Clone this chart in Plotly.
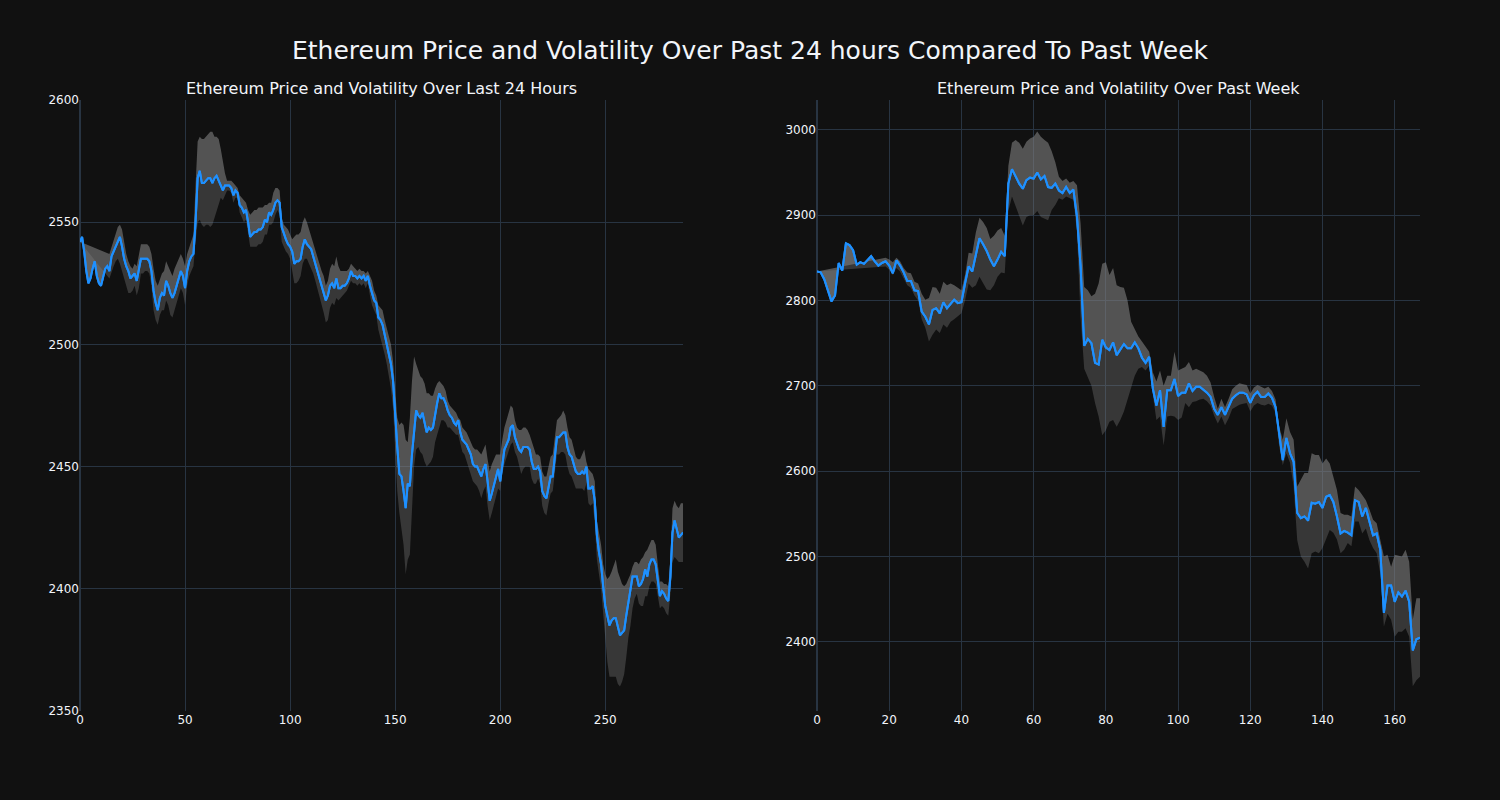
import plotly.graph_objects as go
from plotly.subplots import make_subplots

nan = None

# ---------------- Last 24 hours (5-minute steps) ----------------
day_price = [
    2542, 2544, 2538, 2530, 2525, 2527, 2531, 2534, 2528, 2525,
    2524, 2527, 2531, 2532, 2530, 2536, 2538, 2540, 2542, 2544,
    2540, 2535, 2532, 2530, 2527, 2528, 2529, 2526, 2530, 2535,
    2535, 2535, 2535, 2534, 2530, 2522, 2517, 2514, 2519, 2521,
    2520, 2526, 2524, 2521, 2519, 2521, 2524, 2527, 2530, 2528,
    2523, 2530, 2534, 2536, 2537, 2550, 2568, 2571, 2566, 2566,
    2567, 2568, 2568, 2566, 2568, 2569, 2567, 2565, 2563, 2565,
    2565, 2565, 2564, 2561, 2563, 2562, 2557, 2556, 2554, 2555,
    2550, 2544, 2545, 2546, 2546, 2547, 2547, 2548, 2551, 2550,
    2554, 2553, 2555, 2558, 2559, 2558, 2548, 2545, 2543, 2541,
    2540, 2538, 2533, 2534, 2534, 2535, 2540, 2543, 2541, 2540,
    2539, 2536, 2533, 2530, 2526, 2524, 2521, 2518, 2520, 2524,
    2525, 2523, 2527, 2523, 2523, 2524, 2524, 2525, 2527, 2530,
    2528, 2528, 2527, 2528, 2527, 2528, 2526, 2528, 2524, 2521,
    2518, 2517, 2511, 2510, 2508, 2504, 2500, 2496, 2492, 2485,
    2470, 2458, 2447, 2446, 2440, 2433, 2443, 2442, 2455, 2465,
    2473, 2471, 2470, 2472, 2468, 2464, 2466, 2465, 2466, 2472,
    2476, 2480, 2478, 2478, 2476, 2473, 2471, 2470, 2468, 2467,
    2469, 2464, 2461, 2460, 2459, 2457, 2455, 2451, 2450, 2450,
    2448, 2446, 2449, 2451, 2444, 2436, 2439, 2442, 2446, 2449,
    2444, 2451, 2457, 2459, 2461, 2466, 2467, 2462, 2459, 2457,
    2456, 2458, 2458, 2458, 2457, 2452, 2449, 2449, 2450, 2448,
    2440, 2438, 2437, 2442, 2446, 2446, 2455, 2462, 2462, 2463,
    2464, 2464, 2458, 2455, 2454, 2451, 2448, 2447, 2447, 2448,
    2447, 2450, 2441, 2441, 2442, 2436, 2422, 2415, 2410, 2401,
    2393, 2389, 2385, 2387, 2388, 2388, 2384, 2381, 2382, 2383,
    2389, 2395, 2400, 2405, 2405, 2405, 2401, 2402, 2404, 2408,
    2405, 2410, 2412, 2412, 2410, 2404, 2397, 2399, 2398, 2396,
    2395, 2405, 2423, 2428, 2424, 2421, 2422, 2423,
]

day_upper = [nan] * 14 + [
    2537, 2540, 2543, 2546, 2548, 2549,
    2547, 2542, 2537, 2534, 2532, 2531, 2533, 2532, 2536, 2541,
    2541, 2541, 2541, 2540, 2537, 2531, 2526, 2524, 2527, 2529,
    2530, 2534, 2532, 2530, 2528, 2531, 2533, 2535, 2537, 2535,
    2532, 2537, 2540, 2543, 2545, 2565, 2583, 2585, 2584, 2584,
    2585, 2586, 2587, 2587, 2585, 2585, 2584, 2580, 2575, 2570,
    2567, 2567, 2567, 2566, 2565, 2564, 2561, 2560, 2559, 2558,
    2555, 2553, 2554, 2555, 2555, 2556, 2556, 2556, 2557, 2557,
    2558, 2558, 2562, 2564, 2564, 2563, 2552, 2549, 2548, 2547,
    2545, 2543, 2544, 2545, 2545, 2546, 2550, 2552, 2550, 2547,
    2545, 2542, 2539, 2535, 2532, 2530, 2528, 2524, 2526, 2531,
    2533, 2532, 2536, 2532, 2530, 2530, 2530, 2530, 2531, 2533,
    2532, 2531, 2530, 2531, 2530, 2530, 2529, 2530, 2528, 2526,
    2522, 2520, 2516, 2515, 2514, 2510, 2507, 2504, 2500, 2493,
    2480, 2470, 2467, 2468, 2467, 2461, 2460, 2470, 2485, 2495,
    2492, 2489, 2487, 2486, 2484, 2480, 2480, 2479, 2479, 2482,
    2484, 2485, 2484, 2483, 2481, 2477, 2475, 2474, 2473, 2472,
    2470, 2469, 2466, 2465, 2464, 2462, 2460, 2458, 2457, 2457,
    2456, 2455, 2457, 2459, 2453, 2448, 2451, 2453, 2455, 2455,
    2455, 2461, 2466, 2469, 2472, 2475, 2474, 2469, 2466, 2465,
    2465, 2466, 2466, 2465, 2463, 2460, 2457, 2455, 2455, 2454,
    2448, 2446, 2446, 2450, 2454, 2455, 2463, 2469, 2470, 2471,
    2473, 2471, 2466, 2462, 2461, 2457, 2454, 2453, 2453, 2455,
    2457, 2452, 2449, 2448, 2447, 2444, 2428, 2423, 2418, 2410,
    2406, 2404, 2405, 2407, 2410, 2412, 2407, 2404, 2402, 2401,
    2402, 2404, 2406, 2409, 2411, 2411, 2410, 2412, 2413, 2415,
    2416, 2418, 2420, 2420, 2418, 2410, 2403, 2403, 2402, 2402,
    2401, 2412, 2433, 2436, 2434, 2433, 2435, 2435,
]

day_lower = [nan] * 14 + [
    2527, 2530, 2532, 2534, 2535, 2533,
    2530, 2526, 2523, 2521, 2521, 2522, 2524, 2520, 2523, 2529,
    2529, 2530, 2530, 2529, 2524, 2514, 2510, 2508, 2512, 2514,
    2514, 2518, 2516, 2512, 2511, 2514, 2517, 2520, 2523, 2521,
    2516, 2524, 2528, 2530, 2532, 2542, 2550, 2551, 2549, 2548,
    2549, 2549, 2548, 2549, 2552, 2555, 2558, 2560, 2559, 2561,
    2563, 2563, 2562, 2558, 2560, 2560, 2554, 2552, 2550, 2551,
    2545, 2540, 2540, 2540, 2540, 2541, 2541, 2542, 2545, 2545,
    2549, 2549, 2550, 2553, 2555, 2553, 2542, 2540, 2538, 2537,
    2535, 2530, 2525, 2525, 2526, 2528, 2533, 2535, 2535, 2533,
    2531, 2529, 2526, 2523, 2519, 2517, 2513, 2509, 2510, 2515,
    2517, 2516, 2519, 2518, 2519, 2520, 2521, 2522, 2524, 2526,
    2525, 2525, 2524, 2525, 2524, 2525, 2523, 2525, 2520, 2516,
    2514, 2512, 2506, 2503, 2500, 2496, 2492, 2487, 2482, 2474,
    2455, 2440, 2431, 2425, 2418, 2406, 2412, 2414, 2430, 2450,
    2457, 2458, 2456, 2455, 2452, 2450, 2451, 2452, 2454, 2460,
    2463, 2466, 2469, 2469, 2468, 2466, 2466, 2465, 2464, 2463,
    2463, 2459, 2456, 2455, 2452, 2450, 2447, 2444, 2443, 2442,
    2440, 2437, 2440, 2442, 2434, 2428, 2431, 2434, 2437, 2441,
    2440, 2447, 2451, 2454, 2457, 2459, 2460, 2456, 2454, 2450,
    2447, 2449, 2450, 2450, 2450, 2445, 2443, 2443, 2445, 2443,
    2434, 2431, 2430, 2435, 2439, 2440, 2448, 2455, 2455, 2456,
    2456, 2455, 2450, 2447, 2446, 2443, 2441, 2441, 2441, 2441,
    2440, 2443, 2435, 2434, 2435, 2427, 2412, 2405, 2400, 2390,
    2378, 2370, 2364, 2364, 2364, 2364, 2361, 2360, 2362, 2365,
    2372, 2380, 2385, 2392, 2396, 2398, 2394, 2393, 2393, 2397,
    2397, 2401, 2403, 2403, 2402, 2397, 2392, 2393, 2392, 2390,
    2389, 2398, 2411, 2413, 2412, 2411, 2411, 2411,
]

# ---------------- Past week (hourly steps) ----------------
week_price = [
    2834, 2833, 2825, 2812, 2799, 2806, 2844, 2835, 2867, 2865,
    2859, 2842, 2845, 2843, 2848, 2852, 2846, 2841, 2844, 2846,
    2841, 2832, 2847, 2841, 2833, 2823, 2823, 2812, 2811, 2787,
    2781, 2772, 2789, 2791, 2785, 2798, 2791, 2796, 2801, 2797,
    2798, 2820, 2840, 2834, 2855, 2873, 2866, 2858, 2848, 2840,
    2848, 2857, 2852, 2937, 2954, 2945, 2937, 2931, 2941, 2944,
    2943, 2950, 2942, 2946, 2933, 2932, 2937, 2929, 2926, 2933,
    2926, 2930, 2898, 2840, 2747, 2755, 2750, 2727, 2725, 2754,
    2745, 2742, 2751, 2736, 2742, 2749, 2744, 2744, 2751, 2744,
    2733, 2727, 2734, 2697, 2677, 2695, 2652, 2695, 2695, 2708,
    2688, 2692, 2692, 2703, 2694, 2699, 2699, 2696, 2692, 2687,
    2673, 2666, 2675, 2666, 2676, 2685, 2689, 2692, 2692, 2690,
    2680, 2689, 2693, 2687, 2687, 2691, 2686, 2675, 2644, 2613,
    2639, 2621, 2611, 2551, 2545, 2547, 2542, 2563, 2562, 2564,
    2557, 2570, 2572, 2564, 2547, 2527, 2530, 2528, 2525, 2566,
    2564, 2547, 2557, 2541, 2525, 2527, 2508, 2434, 2466, 2466,
    2447, 2458, 2453, 2460, 2447, 2390, 2403, 2405,
]

week_upper = [nan] * 19 + [
    2850,
    2848, 2845, 2850, 2846, 2838, 2833, 2832, 2822, 2820, 2808,
    2801, 2803, 2816, 2815, 2808, 2822, 2818, 2820, 2818, 2815,
    2812, 2830, 2856, 2855, 2880, 2897, 2892, 2885, 2872, 2876,
    2882, 2885, 2876, 2958, 2985, 2988, 2985, 2978, 2986, 2990,
    2992, 2998, 2992, 2988, 2985, 2975, 2962, 2945, 2940, 2943,
    2938, 2940, 2935, 2890, 2816, 2812, 2805, 2808, 2820, 2843,
    2845, 2830, 2838, 2818, 2816, 2815, 2800, 2775, 2766, 2758,
    2752, 2746, 2740, 2716, 2705, 2718, 2700, 2712, 2712, 2740,
    2718, 2720, 2722, 2728, 2718, 2720, 2718, 2716, 2712, 2704,
    2687, 2673, 2685, 2675, 2685, 2696, 2700, 2703, 2702, 2701,
    2691, 2698, 2701, 2699, 2697, 2699, 2694, 2684, 2652, 2637,
    2662, 2646, 2637, 2582, 2590, 2598, 2598, 2621, 2619, 2619,
    2609, 2615, 2609, 2594, 2578, 2551, 2549, 2549, 2547, 2582,
    2578, 2572, 2566, 2555, 2543, 2539, 2519, 2500, 2502, 2488,
    2502, 2501, 2500, 2508, 2494, 2426, 2451, 2451,
]

week_lower = [nan] * 19 + [
    2840,
    2836, 2830, 2838, 2834, 2826, 2818, 2815, 2806, 2800, 2778,
    2768, 2752, 2760, 2766, 2762, 2772, 2768, 2775, 2778, 2782,
    2785, 2800, 2820, 2815, 2818, 2828, 2820, 2813, 2812, 2818,
    2828, 2833, 2832, 2905, 2922, 2910, 2898, 2888, 2898, 2900,
    2900, 2905, 2898, 2896, 2894, 2906, 2912, 2920, 2918, 2922,
    2920, 2918, 2880, 2780, 2720, 2710, 2700, 2680, 2664, 2642,
    2648, 2658, 2660, 2652, 2660, 2670, 2685, 2698, 2712, 2720,
    2722, 2718, 2724, 2690, 2660, 2664, 2630, 2664, 2665, 2664,
    2660, 2663, 2680, 2675, 2681, 2682, 2684, 2685, 2682, 2677,
    2665, 2656, 2664, 2654, 2662, 2673, 2676, 2678, 2679, 2680,
    2670, 2677, 2680, 2678, 2677, 2679, 2677, 2668, 2629, 2607,
    2621, 2610, 2582, 2519, 2500, 2494, 2486, 2504, 2506, 2504,
    2510, 2520, 2531, 2528, 2520, 2504, 2508, 2516, 2512, 2541,
    2541, 2527, 2533, 2519, 2510, 2504, 2480, 2418, 2433, 2426,
    2406, 2412, 2412, 2416, 2406, 2348, 2355, 2359,
]

day_x = list(range(len(day_price)))
week_x = list(range(len(week_price)))

LINE_COLOR = "#1e90ff"
UPPER_FILL = "rgba(128,128,128,0.6)"
LOWER_FILL = "rgba(128,128,128,0.34)"

fig = make_subplots(
    rows=1, cols=2, horizontal_spacing=0.1,
    subplot_titles=("Ethereum Price and Volatility Over Last 24 Hours",
                    "Ethereum Price and Volatility Over Past Week"),
)


def add_band(x, price, upper, lower, col):
    fig.add_trace(go.Scatter(x=x, y=upper, mode="lines", line=dict(width=0),
                             showlegend=False, hoverinfo="skip"), row=1, col=col)
    fig.add_trace(go.Scatter(x=x, y=price, mode="lines", fill="tonexty",
                             fillcolor=UPPER_FILL,
                             line=dict(color=LINE_COLOR, width=2),
                             showlegend=False), row=1, col=col)
    fig.add_trace(go.Scatter(x=x, y=lower, mode="lines", fill="tonexty",
                             fillcolor=LOWER_FILL, line=dict(width=0),
                             showlegend=False, hoverinfo="skip"), row=1, col=col)
    fig.add_trace(go.Scatter(x=x, y=price, mode="lines",
                             line=dict(color=LINE_COLOR, width=2),
                             showlegend=False), row=1, col=col)


add_band(day_x, day_price, day_upper, day_lower, 1)
add_band(week_x, week_price, week_upper, week_lower, 2)

fig.update_layout(
    template="plotly_dark",
    width=1500, height=800,
    font=dict(family="DejaVu Sans", size=12),
    title=dict(text="Ethereum Price and Volatility Over Past 24 hours Compared To Past Week",
               x=0.5, xanchor="center", y=1 - 50 / 800, yanchor="middle",
               font=dict(size=25)),
    margin=dict(l=80, r=80, t=100, b=89),
    paper_bgcolor="#111111", plot_bgcolor="#111111",
)
for ann in fig.layout.annotations:
    ann.font = dict(size=16, family="DejaVu Sans")

fig.update_xaxes(range=[0, len(day_price) - 1], row=1, col=1)
fig.update_xaxes(range=[0, len(week_price) - 1], row=1, col=2)
fig.update_yaxes(range=[2350, 2600], row=1, col=1)
fig.update_yaxes(range=[2319, 3035], row=1, col=2)

fig.write_html(
    "out.html",
    config={"displayModeBar": False},
    post_script="document.body.style.margin='0';document.body.style.background='#111111';",
)
